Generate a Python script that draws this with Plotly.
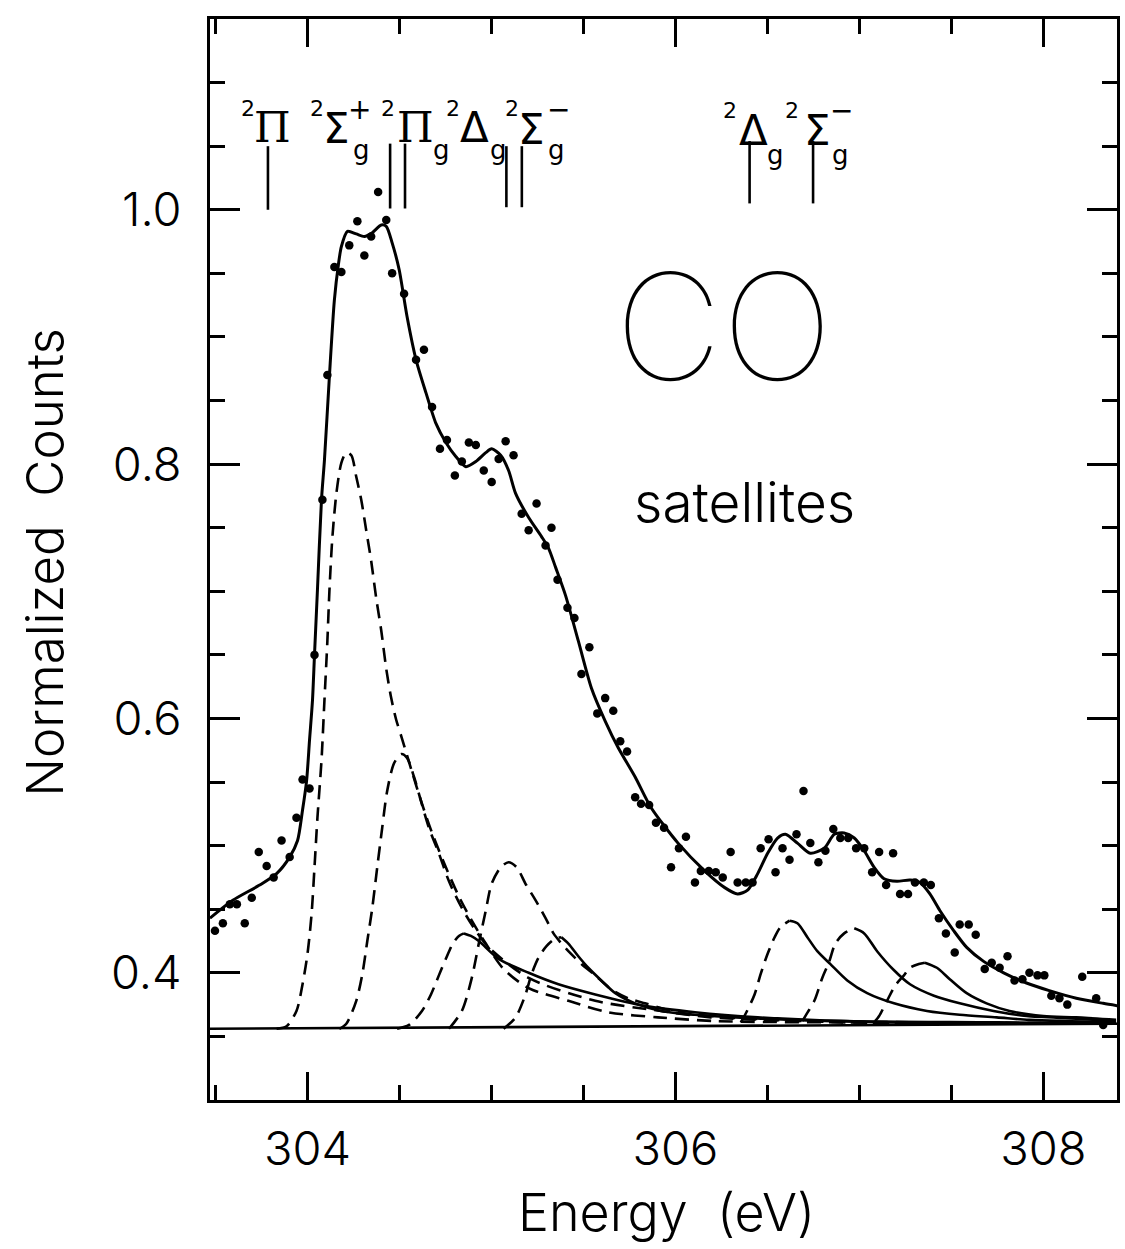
import plotly.graph_objects as go

# ---------------- data ----------------
dots_x = [303.497, 303.540, 303.578, 303.616, 303.659, 303.697, 303.735, 303.778, 303.816, 303.859,
          303.903, 303.940, 303.973, 304.011, 304.038, 304.081, 304.108, 304.146, 304.184, 304.227,
          304.271, 304.309, 304.346, 304.384, 304.428, 304.460, 304.525, 304.590, 304.633, 304.677,
          304.720, 304.758, 304.801, 304.839, 304.877, 304.915, 304.958, 305.001, 305.039, 305.077,
          305.120, 305.164, 305.202, 305.245, 305.294, 305.326, 305.359, 305.413, 305.451, 305.489,
          305.532, 305.575, 305.618, 305.662, 305.700, 305.737, 305.781, 305.813, 305.857, 305.894,
          305.938, 305.976, 306.019, 306.057, 306.106, 306.138, 306.181, 306.219, 306.257, 306.300,
          306.338, 306.382, 306.419, 306.463, 306.506, 306.544, 306.582, 306.620, 306.658, 306.696,
          306.733, 306.777, 306.815, 306.858, 306.896, 306.939, 306.982, 307.026, 307.069, 307.107,
          307.145, 307.183, 307.221, 307.264, 307.302, 307.350, 307.388, 307.432, 307.470, 307.518,
          307.545, 307.594, 307.632, 307.681, 307.719, 307.762, 307.805, 307.843, 307.886, 307.924,
          307.968, 308.005, 308.043, 308.087, 308.130, 308.211, 308.287, 308.325]
dots_y = [0.433, 0.439, 0.454, 0.454, 0.439, 0.459, 0.495, 0.484, 0.475, 0.504,
          0.491, 0.522, 0.552, 0.545, 0.650, 0.772, 0.870, 0.955, 0.951, 0.972,
          0.991, 0.964, 0.979, 1.014, 0.992, 0.950, 0.934, 0.882, 0.890, 0.845,
          0.812, 0.819, 0.791, 0.802, 0.817, 0.815, 0.795, 0.786, 0.804, 0.818,
          0.807, 0.761, 0.748, 0.769, 0.736, 0.750, 0.709, 0.687, 0.679, 0.635,
          0.656, 0.604, 0.616, 0.606, 0.582, 0.574, 0.538, 0.533, 0.532, 0.518,
          0.514, 0.483, 0.498, 0.507, 0.471, 0.480, 0.480, 0.479, 0.475, 0.495,
          0.471, 0.471, 0.471, 0.498, 0.505, 0.479, 0.498, 0.489, 0.509, 0.543,
          0.502, 0.487, 0.496, 0.513, 0.506, 0.506, 0.498, 0.498, 0.479, 0.495,
          0.469, 0.494, 0.462, 0.462, 0.471, 0.471, 0.469, 0.443, 0.431, 0.416,
          0.438, 0.438, 0.430, 0.403, 0.408, 0.404, 0.413, 0.394, 0.395, 0.400,
          0.398, 0.398, 0.382, 0.380, 0.375, 0.397, 0.380, 0.359]

fit_x = [303.470, 303.594, 303.740, 303.832, 303.903, 303.946, 303.973, 303.995, 304.011, 304.027,
         304.038, 304.054, 304.076, 304.092, 304.119, 304.146, 304.168, 304.184, 304.217, 304.265,
         304.309, 304.352, 304.401, 304.428, 304.460, 304.498, 304.541, 304.590, 304.644, 304.698,
         304.752, 304.806, 304.861, 304.915, 304.969, 305.001, 305.050, 305.093, 305.131, 305.202,
         305.272, 305.310, 305.348, 305.402, 305.472, 305.543, 305.618, 305.689, 305.781, 305.867,
         306.014, 306.160, 306.268, 306.338, 306.392, 306.447, 306.501, 306.555, 306.598, 306.663,
         306.733, 306.809, 306.863, 306.917, 306.972, 307.026, 307.080, 307.134, 307.204, 307.275,
         307.329, 307.383, 307.437, 307.513, 307.583, 307.675, 307.784, 307.908, 308.032, 308.179,
         308.325, 308.406]
fit_y = [0.443, 0.457, 0.469, 0.478, 0.491, 0.504, 0.528, 0.551, 0.583, 0.614,
         0.650, 0.701, 0.772, 0.803, 0.869, 0.929, 0.957, 0.971, 0.983, 0.981,
         0.979, 0.982, 0.988, 0.987, 0.974, 0.953, 0.916, 0.882, 0.856, 0.832,
         0.817, 0.806, 0.798, 0.802, 0.809, 0.812, 0.807, 0.795, 0.777, 0.758,
         0.743, 0.734, 0.719, 0.697, 0.661, 0.624, 0.598, 0.577, 0.554, 0.530,
         0.502, 0.480, 0.467, 0.462, 0.465, 0.478, 0.494, 0.506, 0.509, 0.502,
         0.494, 0.498, 0.509, 0.510, 0.506, 0.496, 0.483, 0.474, 0.472, 0.473,
         0.471, 0.462, 0.449, 0.433, 0.420, 0.409, 0.400, 0.392, 0.386, 0.380,
         0.376, 0.374]

base_x = [303.470, 308.400]
base_y = [0.356, 0.360]

# components: fully dashed ones, and ones with a dashed rise and a solid tail
c1_x = [303.832, 303.886, 303.940, 303.973, 304.000, 304.022, 304.038, 304.054, 304.076, 304.092,
        304.108, 304.119, 304.135, 304.157, 304.184, 304.211, 304.238, 304.265, 304.292, 304.319,
        304.346, 304.373, 304.401, 304.428, 304.455, 304.482, 304.514, 304.568, 304.622, 304.677,
        304.752, 304.823, 304.893, 304.969, 305.066, 305.202, 305.418, 305.635, 305.905, 306.230,
        306.934, 308.395]
c1_y = [0.356, 0.358, 0.370, 0.391, 0.415, 0.446, 0.483, 0.522, 0.567, 0.614,
        0.661, 0.700, 0.742, 0.777, 0.801, 0.809, 0.807, 0.790, 0.772, 0.748,
        0.724, 0.695, 0.669, 0.639, 0.616, 0.599, 0.584, 0.558, 0.533, 0.510,
        0.483, 0.460, 0.441, 0.423, 0.403, 0.388, 0.378, 0.369, 0.365, 0.362,
        0.361, 0.360]

c2_x = [304.173, 304.211, 304.265, 304.298, 304.325, 304.352, 304.379, 304.406, 304.433, 304.471,
        304.509, 304.541, 304.579, 304.617, 304.660, 304.714, 304.769, 304.839, 304.915, 304.985,
        305.202, 305.564, 305.922, 306.192, 306.663, 307.475, 308.395]
c2_y = [0.356, 0.360, 0.378, 0.399, 0.425, 0.451, 0.483, 0.514, 0.543, 0.565,
        0.572, 0.569, 0.554, 0.535, 0.514, 0.494, 0.472, 0.451, 0.433, 0.420,
        0.396, 0.378, 0.370, 0.365, 0.362, 0.361, 0.360]

c3_rise_x = [304.487, 304.552, 304.622, 304.671, 304.714, 304.752, 304.790, 304.823, 304.850]
c3_rise_y = [0.356, 0.359, 0.370, 0.383, 0.398, 0.411, 0.423, 0.429, 0.431]
c3_tail_x = [304.850, 304.888, 304.931, 305.039, 305.202, 305.364, 305.564, 305.835, 306.106, 306.447,
             306.934, 307.746, 308.395]
c3_tail_y = [0.431, 0.429, 0.425, 0.411, 0.400, 0.391, 0.383, 0.374, 0.369, 0.365,
             0.362, 0.361, 0.360]

c4_x = [304.769, 304.839, 304.893, 304.931, 304.969, 305.001, 305.050, 305.093, 305.137, 305.185,
        305.240, 305.294, 305.337, 305.375, 305.418, 305.489, 305.564, 305.651, 305.743, 305.835,
        306.014, 306.284, 306.934, 308.395]
c4_y = [0.356, 0.370, 0.396, 0.423, 0.449, 0.470, 0.483, 0.487, 0.483, 0.470,
        0.457, 0.443, 0.431, 0.424, 0.417, 0.407, 0.398, 0.387, 0.380, 0.376,
        0.369, 0.365, 0.361, 0.360]

c5_rise_x = [305.066, 305.131, 305.185, 305.218, 305.256, 305.299, 305.348, 305.380]
c5_rise_y = [0.356, 0.365, 0.383, 0.399, 0.412, 0.421, 0.427, 0.428]
c5_tail_x = [305.380, 305.418, 305.472, 305.526, 305.597, 305.673, 305.781, 305.922, 306.106, 306.463,
             307.204, 308.395]
c5_tail_y = [0.428, 0.423, 0.413, 0.404, 0.394, 0.384, 0.376, 0.370, 0.367, 0.364,
             0.361, 0.360]

c6_rise_x = [306.355, 306.382, 306.430, 306.463, 306.501, 306.539, 306.571, 306.620]
c6_rise_y = [0.361, 0.368, 0.383, 0.399, 0.415, 0.428, 0.436, 0.441]
c6_tail_x = [306.620, 306.663, 306.717, 306.771, 306.841, 306.934, 307.042, 307.188, 307.367, 307.545,
             307.746, 307.924, 308.395]
c6_tail_y = [0.441, 0.439, 0.428, 0.417, 0.407, 0.394, 0.384, 0.376, 0.370, 0.367,
             0.365, 0.363, 0.361]

c7_rise_x = [306.690, 306.706, 306.755, 306.798, 306.836, 306.869, 306.917, 306.972]
c7_rise_y = [0.362, 0.366, 0.378, 0.396, 0.409, 0.423, 0.431, 0.435]
c7_tail_x = [306.972, 307.026, 307.096, 307.188, 307.275, 307.405, 307.545, 307.729, 307.908, 308.179,
             308.395]
c7_tail_y = [0.435, 0.431, 0.417, 0.402, 0.391, 0.382, 0.376, 0.370, 0.366, 0.364, 0.362]

c8_rise_x = [307.085, 307.107, 307.150, 307.194, 307.242, 307.275, 307.323, 307.356]
c8_rise_y = [0.362, 0.366, 0.378, 0.390, 0.398, 0.404, 0.407, 0.408]
c8_tail_x = [307.356, 307.421, 307.491, 307.583, 307.691, 307.816, 308.000, 308.179, 308.395]
c8_tail_y = [0.408, 0.404, 0.395, 0.384, 0.376, 0.370, 0.366, 0.365, 0.363]

# state energies marked at the top, with the vertical extent of each marker
state_energy = [303.785, 304.449, 304.530, 305.081, 305.165, 306.403, 306.748]
state_low = [1.000, 1.001, 1.001, 1.002, 1.002, 1.005, 1.005]
state_high = [1.050, 1.052, 1.052, 1.050, 1.050, 1.054, 1.054]

x_tick_labels = ["304", "306", "308"]
y_tick_labels = ["0.4", "0.6", "0.8", "1.0"]

# ---------------- figure ----------------
DASH = "14px,8px"
LW = 2.6
FONT = "Inter"
fig = go.Figure()

fig.add_trace(go.Scatter(x=base_x, y=base_y, mode="lines",
                         line=dict(color="black", width=LW), hoverinfo="skip"))

for cx, cy in [(c1_x, c1_y), (c2_x, c2_y), (c4_x, c4_y)]:
    fig.add_trace(go.Scatter(x=cx, y=cy, mode="lines",
                             line=dict(color="black", width=LW, dash=DASH, shape="spline", smoothing=0.8),
                             hoverinfo="skip"))

split = [(c3_rise_x, c3_rise_y, c3_tail_x, c3_tail_y),
         (c5_rise_x, c5_rise_y, c5_tail_x, c5_tail_y),
         (c6_rise_x, c6_rise_y, c6_tail_x, c6_tail_y),
         (c7_rise_x, c7_rise_y, c7_tail_x, c7_tail_y),
         (c8_rise_x, c8_rise_y, c8_tail_x, c8_tail_y)]
for rx, ry, tx, ty in split:
    fig.add_trace(go.Scatter(x=rx, y=ry, mode="lines",
                             line=dict(color="black", width=LW, dash=DASH, shape="spline", smoothing=0.8),
                             hoverinfo="skip"))
    fig.add_trace(go.Scatter(x=tx, y=ty, mode="lines",
                             line=dict(color="black", width=LW, shape="spline", smoothing=0.8),
                             hoverinfo="skip"))

fig.add_trace(go.Scatter(x=fit_x, y=fit_y, mode="lines",
                         line=dict(color="black", width=3, shape="spline", smoothing=0.7),
                         hoverinfo="skip"))

fig.add_trace(go.Scatter(x=dots_x, y=dots_y, mode="markers",
                         marker=dict(color="black", size=8.5), hoverinfo="skip"))

sx, sy = [], []
for e, lo, hi in zip(state_energy, state_low, state_high):
    sx += [e, e, None]
    sy += [lo, hi, None]
fig.add_trace(go.Scatter(x=sx, y=sy, mode="lines", line=dict(color="black", width=2.6),
                         hoverinfo="skip", cliponaxis=False))

ann = []


def txt(x, y, s, size, xref="x", yref="y", family="DejaVu Sans", weight=400, **kw):
    d = dict(x=x, y=y, text=s, xref=xref, yref=yref, showarrow=False,
             font=dict(family=family, size=size, color="black", weight=weight),
             xanchor="center", yanchor="middle")
    d.update(kw)
    ann.append(d)


# state labels: superscript 2, main symbol, subscript g, superscript sign
BIG, SUP, SUB, SIGN = 42, 22, 26, 28
SERIF = "DejaVu Serif"
txt(303.675, 1.0795, "2", SUP)
txt(303.811, 1.0646, "Π", BIG, family=SERIF)
txt(304.049, 1.0795, "2", SUP)
txt(304.157, 1.0638, "Σ", BIG)
txt(304.292, 1.0472, "g", SUB)
txt(304.281, 1.0787, "+", SIGN)
txt(304.438, 1.0795, "2", SUP)
txt(304.585, 1.0646, "Π", BIG, family=SERIF)
txt(304.731, 1.0472, "g", SUB)
txt(304.790, 1.0795, "2", SUP)
txt(304.909, 1.0646, "Δ", BIG)
txt(305.039, 1.0472, "g", SUB)
txt(305.110, 1.0795, "2", SUP)
txt(305.218, 1.0630, "Σ", BIG)
txt(305.353, 1.0472, "g", SUB)
txt(305.364, 1.0787, "−", SIGN)
txt(306.295, 1.0780, "2", SUP)
txt(306.425, 1.0622, "Δ", BIG)
txt(306.544, 1.0433, "g", SUB)
txt(306.636, 1.0780, "2", SUP)
txt(306.771, 1.0622, "Σ", BIG)
txt(306.896, 1.0433, "g", SUB)
txt(306.901, 1.0780, "−", SIGN)

# CO and satellites
txt(306.262, 0.908, "CO", 148, family="Inter", weight=100)
txt(306.376, 0.770, "satellites", 55, family=FONT, weight=300)

# axis titles
txt(0.503, -0.104, "Energy\u00a0\u00a0(eV)", 52, xref="paper", yref="paper", family=FONT, weight=300)
txt(-0.182, 0.497, "Normalized\u00a0\u00a0Counts", 51, xref="paper", yref="paper",
    family=FONT, weight=300, textangle=-90)

tickfont = dict(family=FONT, size=47, color="black", weight=300)
fig.update_layout(
    width=1125, height=1249,
    margin=dict(l=210, r=5, t=19, b=149),
    paper_bgcolor="white", plot_bgcolor="white",
    showlegend=False,
    annotations=ann,
    xaxis=dict(range=[303.47, 308.40], showgrid=False, zeroline=False,
               showline=True, linewidth=3, linecolor="black", mirror="allticks",
               ticks="inside", ticklen=28, tickwidth=2.5, tickcolor="black",
               tickmode="array", tickvals=[304, 306, 308], ticktext=x_tick_labels,
               tickfont=tickfont, ticklabelstandoff=6,
               minor=dict(ticks="inside", ticklen=15, tickwidth=2.5, tickcolor="black",
                          dtick=0.5, tick0=304, showgrid=False)),
    yaxis=dict(range=[0.3, 1.15], showgrid=False, zeroline=False,
               showline=True, linewidth=3, linecolor="black", mirror="allticks",
               ticks="inside", ticklen=30, tickwidth=2.5, tickcolor="black",
               tickmode="array", tickvals=[0.4, 0.6, 0.8, 1.0], ticktext=y_tick_labels,
               tickfont=tickfont, ticklabelstandoff=16,
               minor=dict(ticks="inside", ticklen=15, tickwidth=2.5, tickcolor="black",
                          dtick=0.05, tick0=0.3, showgrid=False)),
)

fig.write_html("out.html")
